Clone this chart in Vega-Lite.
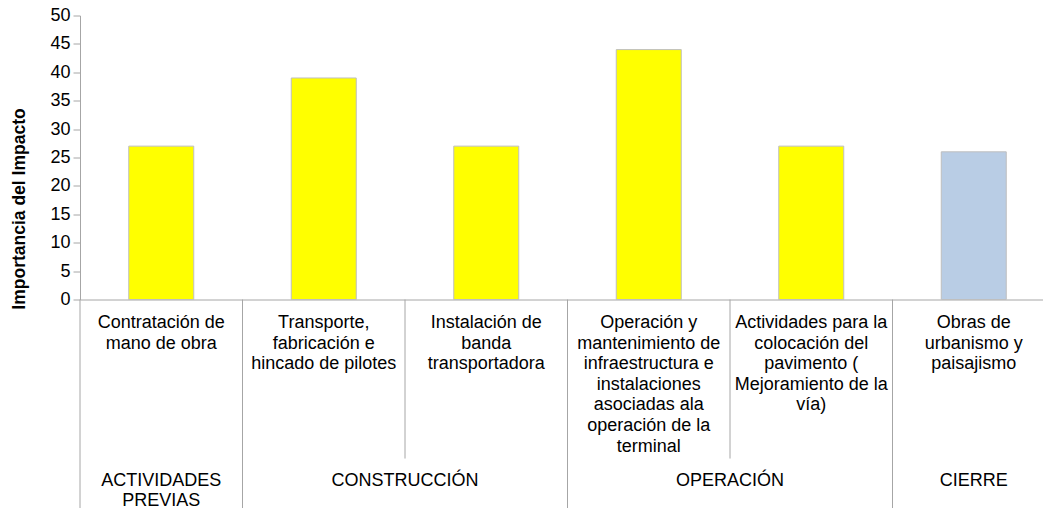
{
  "$schema": "https://vega.github.io/schema/vega-lite/v6.json",
  "width": 962,
  "height": 284,
  "autosize": {"type": "none"},
  "padding": {"left": 80, "top": 15.5, "right": 1, "bottom": 208.5},
  "background": "white",
  "config": {
    "view": {"stroke": null},
    "font": "Liberation Sans",
    "axisY": {
      "grid": false,
      "domainColor": "#A6A6A6",
      "tickColor": "#A6A6A6",
      "tickSize": 7,
      "labelPadding": 3,
      "labelFontSize": 18,
      "labelOverlap": false,
      "labelColor": "#000000",
      "titleFontSize": 17.5,
      "titleFontWeight": "bold",
      "titleColor": "#000000",
      "titleX": -61,
      "titleY": 193,
      "titleAngle": 270,
      "titleAlign": "center",
      "titleBaseline": "middle",
      "titleLimit": 400
    }
  },
  "datasets": {
    "impactos": [
      {"actividad": "Contratación de mano de obra", "fase": "ACTIVIDADES PREVIAS", "importancia": 27},
      {"actividad": "Transporte, fabricación e hincado de pilotes", "fase": "CONSTRUCCIÓN", "importancia": 39},
      {"actividad": "Instalación de banda transportadora", "fase": "CONSTRUCCIÓN", "importancia": 27},
      {"actividad": "Operación y mantenimiento de infraestructura e instalaciones asociadas ala operación de la terminal", "fase": "OPERACIÓN", "importancia": 44},
      {"actividad": "Actividades para la colocación del pavimento ( Mejoramiento de la vía)", "fase": "OPERACIÓN", "importancia": 27},
      {"actividad": "Obras de urbanismo y paisajismo", "fase": "CIERRE", "importancia": 26}
    ],
    "fases": [
      {"fase": "ACTIVIDADES PREVIAS", "desde": "Contratación de mano de obra", "hasta": "Contratación de mano de obra"},
      {"fase": "CONSTRUCCIÓN", "desde": "Transporte, fabricación e hincado de pilotes", "hasta": "Instalación de banda transportadora"},
      {"fase": "OPERACIÓN", "desde": "Operación y mantenimiento de infraestructura e instalaciones asociadas ala operación de la terminal", "hasta": "Actividades para la colocación del pavimento ( Mejoramiento de la vía)"},
      {"fase": "CIERRE", "desde": "Obras de urbanismo y paisajismo", "hasta": "Obras de urbanismo y paisajismo"}
    ]
  },
  "layer": [
    {
      "data": {"name": "impactos"},
      "mark": {"type": "bar", "width": {"band": 0.4}, "stroke": "#BFBFBF", "strokeWidth": 1},
      "encoding": {
        "x": {
          "field": "actividad",
          "type": "nominal",
          "scale": {
            "domain": [
              "Contratación de mano de obra",
              "Transporte, fabricación e hincado de pilotes",
              "Instalación de banda transportadora",
              "Operación y mantenimiento de infraestructura e instalaciones asociadas ala operación de la terminal",
              "Actividades para la colocación del pavimento ( Mejoramiento de la vía)",
              "Obras de urbanismo y paisajismo"
            ],
            "paddingInner": 0,
            "paddingOuter": 0,
            "rangeMax": 975
          },
          "axis": {
            "title": null,
            "ticks": false,
            "domainColor": "#A6A6A6",
            "labelAngle": 0,
            "labelFontSize": 18,
            "labelColor": "#000000",
            "labelBaseline": "top",
            "labelPadding": 14,
            "labelLineHeight": 20.6,
            "labelOverlap": false,
            "labelLimit": 200,
            "labelExpr": "({'Contratación de mano de obra': ['Contratación de', 'mano de obra'], 'Transporte, fabricación e hincado de pilotes': ['Transporte,', 'fabricación e', 'hincado de pilotes'], 'Instalación de banda transportadora': ['Instalación de', 'banda', 'transportadora'], 'Operación y mantenimiento de infraestructura e instalaciones asociadas ala operación de la terminal': ['Operación y', 'mantenimiento de', 'infraestructura e', 'instalaciones', 'asociadas ala', 'operación de la', 'terminal'], 'Actividades para la colocación del pavimento ( Mejoramiento de la vía)': ['Actividades para la', 'colocación del', 'pavimento (', 'Mejoramiento de la', 'vía)'], 'Obras de urbanismo y paisajismo': ['Obras de', 'urbanismo y', 'paisajismo']})[datum.value]"
          }
        },
        "y": {
          "field": "importancia",
          "type": "quantitative",
          "scale": {"domain": [0, 50], "nice": false},
          "axis": {"title": "Importancia del Impacto", "values": [0, 5, 10, 15, 20, 25, 30, 35, 40, 45, 50]}
        },
        "color": {
          "field": "fase",
          "type": "nominal",
          "scale": {
            "domain": ["ACTIVIDADES PREVIAS", "CONSTRUCCIÓN", "OPERACIÓN", "CIERRE"],
            "range": ["#FFFF00", "#FFFF00", "#FFFF00", "#B9CDE5"]
          },
          "legend": null
        }
      }
    },
    {
      "data": {"name": "fases"},
      "mark": {"type": "rule", "color": "#A6A6A6", "strokeWidth": 1},
      "encoding": {
        "x": {"field": "desde", "type": "nominal", "bandPosition": 0},
        "y": {"datum": 0, "axis": {"title": "Importancia del Impacto", "values": [0, 5, 10, 15, 20, 25, 30, 35, 40, 45, 50]}},
        "y2": {"datum": -40}
      }
    },
    {
      "data": {"name": "impactos"},
      "transform": [
        {"lookup": "actividad", "from": {"data": {"name": "fases"}, "key": "desde", "fields": ["fase"]}, "as": ["inicioFase"]},
        {"filter": "datum.inicioFase == null"}
      ],
      "mark": {"type": "rule", "color": "#A6A6A6", "strokeWidth": 1},
      "encoding": {
        "x": {"field": "actividad", "type": "nominal", "bandPosition": 0},
        "y": {"datum": 0, "axis": {"title": "Importancia del Impacto", "values": [0, 5, 10, 15, 20, 25, 30, 35, 40, 45, 50]}},
        "y2": {"datum": -28}
      }
    },
    {
      "data": {"name": "fases"},
      "transform": [{"filter": "datum.desde == datum.hasta"}],
      "mark": {"type": "text", "fontSize": 18, "color": "#000000", "baseline": "alphabetic", "align": "center", "lineBreak": " ", "lineHeight": 20.6},
      "encoding": {
        "x": {"field": "desde", "type": "nominal", "bandPosition": 0.5},
        "y": {"datum": -32.8, "axis": {"title": "Importancia del Impacto", "values": [0, 5, 10, 15, 20, 25, 30, 35, 40, 45, 50]}},
        "text": {"field": "fase"}
      }
    },
    {
      "data": {"name": "fases"},
      "transform": [{"filter": "datum.desde != datum.hasta"}],
      "mark": {"type": "text", "fontSize": 18, "color": "#000000", "baseline": "alphabetic", "align": "center", "lineHeight": 20.6},
      "encoding": {
        "x": {"field": "desde", "type": "nominal", "bandPosition": 1},
        "y": {"datum": -32.8, "axis": {"title": "Importancia del Impacto", "values": [0, 5, 10, 15, 20, 25, 30, 35, 40, 45, 50]}},
        "text": {"field": "fase"}
      }
    }
  ]
}
